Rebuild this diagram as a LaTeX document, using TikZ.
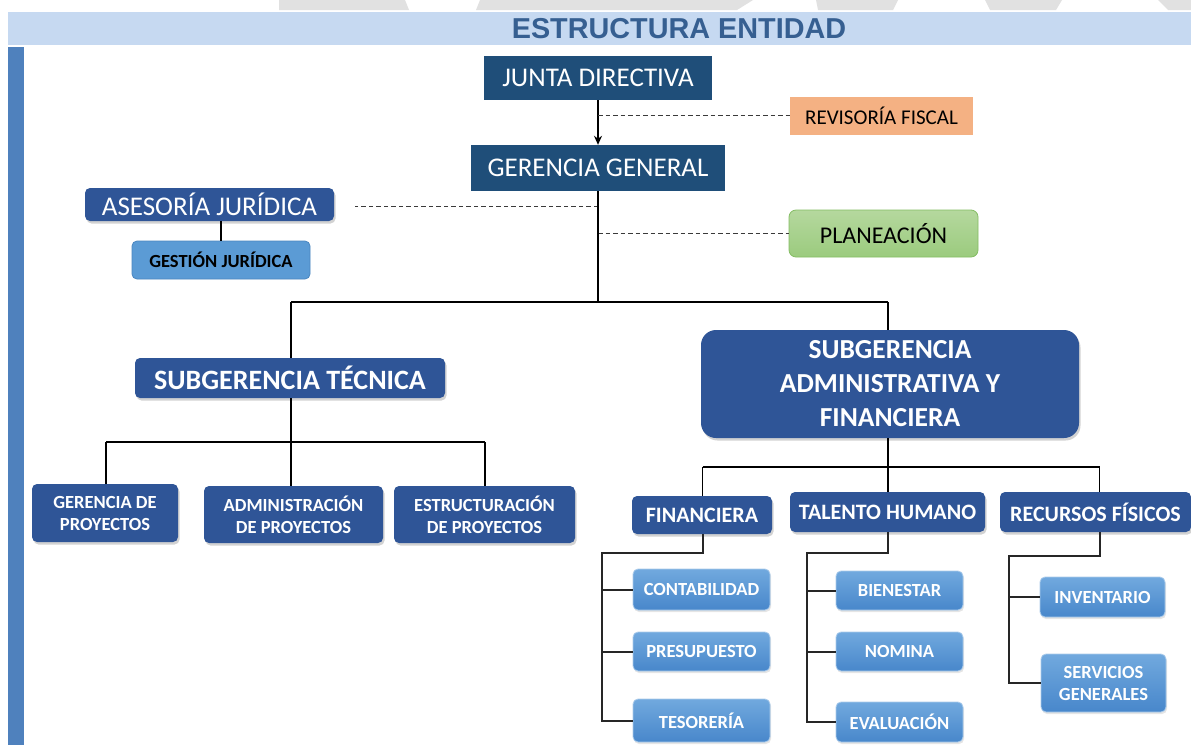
\documentclass[tikz,border=0pt]{standalone}
\usepackage{fontspec}
\setmainfont{Carlito}
\newfontfamily\titlefont{Liberation Sans}
\usetikzlibrary{shadows,arrows.meta,calc}
\definecolor{navy}{HTML}{1F4E79}
\definecolor{royal}{HTML}{2F5597}
\definecolor{band}{HTML}{C6D9F1}
\definecolor{barblue}{HTML}{4F81BD}
\definecolor{titleblue}{HTML}{365F91}
\definecolor{peach}{HTML}{F4B183}
\definecolor{greenT}{HTML}{B5D89E}
\definecolor{greenB}{HTML}{9BCB7E}
\definecolor{greenE}{HTML}{84BD63}
\definecolor{gestblue}{HTML}{5B9BD5}
\definecolor{gestedge}{HTML}{4A86C0}
\definecolor{lbT}{HTML}{71A9DE}
\definecolor{lbB}{HTML}{4887CB}
\definecolor{wm}{HTML}{E1E1E1}
\definecolor{dashc}{HTML}{3A3A3A}
\begin{document}
\begin{tikzpicture}[x=1pt,y=-1pt,
  box/.style={inner sep=0pt, align=center, text=white},
  navybox/.style={box, fill=navy, font=\fontsize{27}{32}\selectfont},
  royalbox/.style={box, fill=royal, rounded corners=5pt,
    drop shadow={shadow xshift=1.5pt,shadow yshift=-2.5pt,opacity=0.35}},
  litebox/.style={box, rounded corners=5pt, top color=lbT, bottom color=lbB,
    draw=lbT!60!white, line width=0.8pt,
    font=\bfseries\fontsize{18.5}{22}\selectfont,
    drop shadow={shadow xshift=1pt,shadow yshift=-2pt,opacity=0.2}},
  link/.style={draw=black, line width=1.4pt},
  branch/.style={draw=black!85, line width=2pt},
  dashlink/.style={draw=dashc, line width=0.9pt, dash pattern=on 4.5pt off 3pt}]
\useasboundingbox (0,0) rectangle (1191,745);
\fill[white] (0,0) rectangle (1191,745);
% watermark fragments
\fill[wm] (279,0) -- (405,0) -- (409,10) -- (279,10) -- cycle;
\fill[wm] (480,0) -- (753,0) -- (737,10) -- (476,10) -- cycle;
\fill[wm] (816,0) -- (898,0) -- (893,10) -- (818,10) -- cycle;
\fill[wm] (985,0) -- (1062,0) -- (1056,10) -- (990,10) -- cycle;
\fill[wm] (1158,0) -- (1191,0) -- (1191,10) -- (1168,10) -- cycle;
% header
\fill[band] (8,12) rectangle (1191,45);
\fill[barblue] (8,47) rectangle (24,745);
\node[font=\titlefont\bfseries\fontsize{28.8}{30}\selectfont, text=titleblue] (title) at (679,28.5) {ESTRUCTURA ENTIDAD};
% top level
\node[navybox, minimum width=228pt, minimum height=44pt] (junta) at (598,78) {JUNTA DIRECTIVA};
\node[box, text=black, fill=peach, minimum width=183pt, minimum height=38pt, font=\fontsize{21}{25}\selectfont] (rev) at (881.5,116) {REVISORÍA FISCAL};
\node[navybox, minimum width=254pt, minimum height=46pt] (ger) at (598,168) {GERENCIA GENERAL};
\node[royalbox, minimum width=249pt, minimum height=33pt, font=\fontsize{27}{32}\selectfont] (ases) at (209.5,204.5) {ASESORÍA JURÍDICA};
\node[box, text=black, fill=gestblue, draw=gestedge, line width=0.8pt, rounded corners=5pt, minimum width=178pt, minimum height=38pt, font=\bfseries\fontsize{18.5}{22}\selectfont] (gest) at (221,260) {GESTIÓN JURÍDICA};
\node[box, text=black, top color=greenT, bottom color=greenB, draw=greenE, line width=0.8pt, rounded corners=7pt, minimum width=189pt, minimum height=47pt, font=\fontsize{24}{28}\selectfont] (plan) at (883.5,233.5) {PLANEACIÓN};
% second level
\node[royalbox, minimum width=310pt, minimum height=40pt, font=\bfseries\fontsize{28}{32}\selectfont] (subt) at (290,378) {SUBGERENCIA TÉCNICA};
\node[royalbox, rounded corners=15pt, minimum width=378pt, minimum height=108pt, font=\bfseries\fontsize{27.5}{34}\selectfont] (suba) at (890,384) {SUBGERENCIA\\ADMINISTRATIVA Y\\FINANCIERA};
% technical units
\node[royalbox, minimum width=146pt, minimum height=58pt, font=\bfseries\fontsize{18.5}{22}\selectfont] (gp) at (105,513) {GERENCIA DE\\PROYECTOS};
\node[royalbox, minimum width=179pt, minimum height=57pt, font=\bfseries\fontsize{18.5}{22}\selectfont] (ap) at (293.5,514.5) {ADMINISTRACIÓN\\DE PROYECTOS};
\node[royalbox, minimum width=181pt, minimum height=57pt, font=\bfseries\fontsize{18.5}{22}\selectfont] (ep) at (484.5,514.5) {ESTRUCTURACIÓN\\DE PROYECTOS};
% admin units
\node[royalbox, minimum width=140pt, minimum height=38pt, font=\bfseries\fontsize{22}{26}\selectfont] (fin) at (702,515) {FINANCIERA};
\node[royalbox, minimum width=195pt, minimum height=40pt, font=\bfseries\fontsize{22}{26}\selectfont] (th) at (887.5,512) {TALENTO HUMANO};
\node[royalbox, minimum width=191pt, minimum height=40pt, font=\bfseries\fontsize{22}{26}\selectfont] (rf) at (1095.5,512) {RECURSOS FÍSICOS};
% leaf units
\node[litebox, minimum width=137pt, minimum height=41pt] (cont) at (701.5,589.5) {CONTABILIDAD};
\node[litebox, minimum width=137pt, minimum height=39pt] (pres) at (701.5,651.5) {PRESUPUESTO};
\node[litebox, minimum width=137pt, minimum height=43pt] (tes) at (701.5,720.5) {TESORERÍA};
\node[litebox, minimum width=127pt, minimum height=39pt] (bien) at (899.5,590.5) {BIENESTAR};
\node[litebox, minimum width=127pt, minimum height=39pt] (nom) at (899.5,651.5) {NOMINA};
\node[litebox, minimum width=127pt, minimum height=40pt] (eva) at (899.5,722) {EVALUACIÓN};
\node[litebox, minimum width=125pt, minimum height=40pt] (inv) at (1102.5,597) {INVENTARIO};
\node[litebox, minimum width=125pt, minimum height=58pt] (sg) at (1103.5,683) {SERVICIOS\\GENERALES};
% connectors top
\draw[link,-{Stealth[length=9pt,width=8pt]}] (junta.south) -- (ger.north);
\coordinate (d1) at (598,115);
\draw[dashlink] (d1) -- (d1 -| rev.west);
\coordinate (d2) at (598,206);
\coordinate (d2end) at (355,206);
\draw[dashlink] (d2) -- (d2end);
\coordinate (d3) at (598,233);
\draw[dashlink] (d3) -- (d3 -| plan.west);
\draw[link] (gest.north) -- (gest.north |- ases.south);
\coordinate (trunk) at (598,302);
\coordinate (tl) at (291,302);
\coordinate (tr) at (888,302);
\draw[link] (ger.south) -- (trunk);
\draw[link] (tl) -- (tr);
\draw[link] (tl) -- (tl |- subt.north);
\draw[link] (tr) -- (tr |- suba.north);
% technical branch
\coordinate (bl) at (106,442);
\coordinate (br) at (485,442);
\draw[link] (tl |- subt.south) -- (tl |- bl);
\draw[link] (bl) -- (br);
\draw[link] (bl) -- (bl |- gp.north);
\draw[link] (tl |- bl) -- (tl |- ap.north);
\draw[link] (br) -- (br |- ep.north);
% admin branch
\coordinate (fl) at (702.5,467);
\coordinate (fr) at (1099.5,467);
\draw[link] (tr |- suba.south) -- (tr |- fl);
\draw[link] (fl) -- (fr);
\draw[link] (fl) -- (fl |- fin.north);
\draw[link] (tr |- fl) -- (tr |- th.north);
\draw[link] (fr) -- (fr |- rf.north);
% sub-branches
\coordinate (fs) at (601.5,553);
\draw[branch] (fl |- fin.south) -- (fl |- fs) -- (fs) -- (fs |- tes.west) -- (tes.west);
\draw[branch] (fs |- cont.west) -- (cont.west);
\draw[branch] (fs |- pres.west) -- (pres.west);
\coordinate (ts) at (806.5,553);
\draw[branch] (tr |- th.south) -- (tr |- ts) -- (ts) -- (ts |- eva.west) -- (eva.west);
\draw[branch] (ts |- bien.west) -- (bien.west);
\draw[branch] (ts |- nom.west) -- (nom.west);
\coordinate (rs) at (1009,556);
\draw[branch] (fr |- rf.south) -- (fr |- rs) -- (rs) -- (rs |- sg.west) -- (sg.west);
\draw[branch] (rs |- inv.west) -- (inv.west);
\end{tikzpicture}
\end{document}
